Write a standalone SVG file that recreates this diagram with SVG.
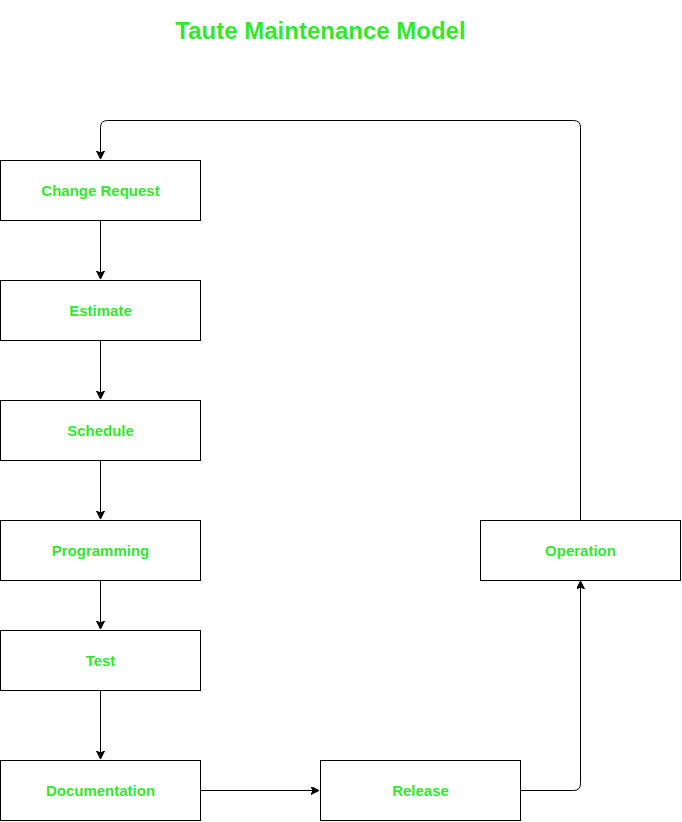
<svg xmlns="http://www.w3.org/2000/svg" width="682" height="822" viewBox="0 0 682 822">
<style>
.box{fill:#fff;stroke:#000;stroke-width:1}
.lbl{font-family:"Liberation Sans",Arial,sans-serif;font-weight:bold;font-size:15px;fill:#33E62E;text-anchor:middle}
.title{font-family:"Liberation Sans",Arial,sans-serif;font-weight:bold;font-size:24px;fill:#33E62E;text-anchor:middle}
.edge{fill:none;stroke:#000;stroke-width:1;marker-end:url(#arr)}
</style>
<defs>
<marker id="arr" markerWidth="10" markerHeight="10" refX="8" refY="4" orient="auto" markerUnits="userSpaceOnUse">
<path d="M0,0 L8,4 L0,8 L2,4 Z" fill="#000" stroke="#000" stroke-width="1"/>
</marker>
</defs>
<rect width="682" height="822" fill="#fff"/>
<text class="title" x="320.5" y="39">Taute Maintenance Model</text>
<g id="connectors">
<path class="edge" d="M100.5,220.5 V279"/>
<path class="edge" d="M100.5,340.5 V399"/>
<path class="edge" d="M100.5,460.5 V519"/>
<path class="edge" d="M100.5,580.5 V629"/>
<path class="edge" d="M100.5,690.5 V759"/>
<path class="edge" d="M200.5,790.5 H319"/>
<path class="edge" d="M520.5,790.5 H573.5 Q580.5,790.5 580.5,783.5 V581"/>
<path class="edge" d="M580.5,520.5 V127.5 Q580.5,120.5 573.5,120.5 H107.5 Q100.5,120.5 100.5,127.5 V159"/>
</g>
<g id="n-change"><rect class="box" x="0.5" y="160.5" width="200" height="60"/><text class="lbl" x="100.5" y="196">Change Request</text></g>
<g id="n-estimate"><rect class="box" x="0.5" y="280.5" width="200" height="60"/><text class="lbl" x="100.5" y="316">Estimate</text></g>
<g id="n-schedule"><rect class="box" x="0.5" y="400.5" width="200" height="60"/><text class="lbl" x="100.5" y="436">Schedule</text></g>
<g id="n-programming"><rect class="box" x="0.5" y="520.5" width="200" height="60"/><text class="lbl" x="100.5" y="556">Programming</text></g>
<g id="n-test"><rect class="box" x="0.5" y="630.5" width="200" height="60"/><text class="lbl" x="100.5" y="666">Test</text></g>
<g id="n-documentation"><rect class="box" x="0.5" y="760.5" width="200" height="60"/><text class="lbl" x="100.5" y="796">Documentation</text></g>
<g id="n-release"><rect class="box" x="320.5" y="760.5" width="200" height="60"/><text class="lbl" x="420.5" y="796">Release</text></g>
<g id="n-operation"><rect class="box" x="480.5" y="520.5" width="200" height="60"/><text class="lbl" x="580.5" y="556">Operation</text></g>
</svg>
